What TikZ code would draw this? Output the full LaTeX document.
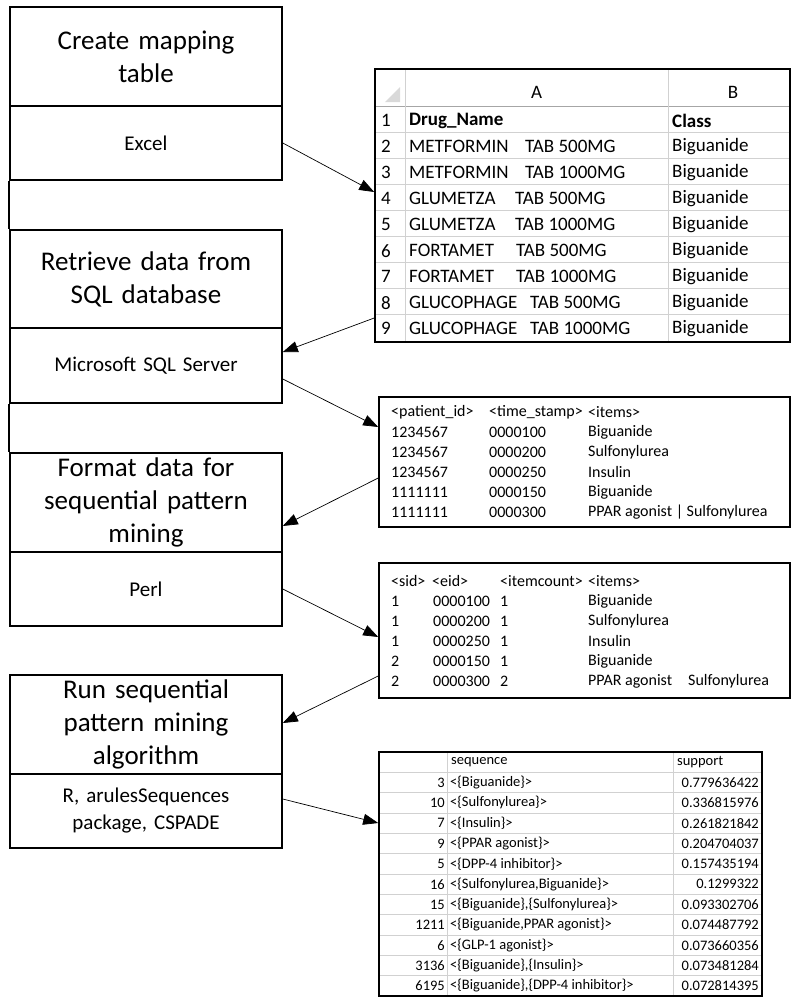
\documentclass[tikz,border=0pt]{standalone}
\usepackage{fontspec}
\setmainfont{Carlito}
\usetikzlibrary{arrows.meta}

\begin{document}
\begin{tikzpicture}[x=1pt,y=-1pt]
\tikzset{stage/.style = {draw, line width=1.6pt, minimum width=272pt, text width=262pt, align=center, inner sep=0pt, font=\fontsize{27}{33}\selectfont}}
\tikzset{tool/.style = {stage, font=\fontsize{21}{27}\selectfont}}
\tikzset{tablebox/.style = {draw, line width=1.6pt, inner sep=0pt}}
\tikzset{gridline/.style = {draw=black!18, line width=0.8pt}}
\tikzset{cell/.style = {anchor=west, inner sep=0pt}}
\tikzset{flow/.style = {-{Triangle[length=15pt,width=11pt]}, line width=0.7pt}}
\useasboundingbox (0,0) rectangle (791,997);

% steps on the left
\node[stage, minimum height=99pt](create) at (146,56.5) {Create mapping\\table};
\node[tool, minimum height=74pt](excel) at (146,143) {Excel};
\node[stage, minimum height=98pt](retrieve) at (146,279) {Retrieve data from\\SQL database};
\node[tool, minimum height=75pt](sqlserver) at (146,365.5) {Microsoft SQL Server};
\node[stage, minimum height=99pt](format) at (146,502.5) {Format data for\\sequential pattern\\mining};
\node[tool, minimum height=74pt](perl) at (146,589) {Perl};
\node[stage, minimum height=99pt](mining) at (146,724.5) {Run sequential\\pattern mining\\algorithm};
\node[tool, minimum height=74pt](cspade) at (146,811) {R, arulesSequences\\package, CSPADE};
\draw[line width=1.6pt] (excel.south west) -- (retrieve.north west);
\draw[line width=1.6pt] (sqlserver.south west) -- (format.north west);

% mapping table
\begin{scope}[font=\fontsize{19}{22}\selectfont]
\foreach \k in {1,...,8} \draw[gridline] (375,106.7+26*\k) -- (790,106.7+26*\k);
\draw[draw=black!35, line width=0.8pt] (375,106.7) -- (790,106.7);
\draw[gridline] (405,69) -- (405,342);
\draw[gridline] (668,69) -- (668,342);
\fill[black!15] (385,102) -- (400,87) -- (400,102) -- cycle;
\node[tablebox, minimum width=415pt, minimum height=273pt](mapping) at (582.5,205.5) {};
\node(colA) at (536.5,92) {A};
\node(colB) at (733,92) {B};
\foreach \r in {1,...,9} \node[cell](row\r) at (381,94.7+26*\r) {\r};
\node[cell, font=\fontsize{19}{22}\selectfont\bfseries](drug1) at (409,120.7) {Drug\_Name};
\node[cell, font=\fontsize{19}{22}\selectfont\bfseries](class1) at (672,120.7) {Class};
\foreach \r/\drug/\tabx/\dose in {2/METFORMIN/525/500MG, 3/METFORMIN/525/1000MG, 4/GLUMETZA/515/500MG, 5/GLUMETZA/515/1000MG, 6/FORTAMET/516/500MG, 7/FORTAMET/516/1000MG, 8/GLUCOPHAGE/530/500MG, 9/GLUCOPHAGE/530/1000MG}
{
\node[cell](drug\r) at (409,94.7+26*\r) {\drug};
\node[cell](dose\r) at (\tabx,94.7+26*\r) {TAB \dose};
\node[cell](class\r) at (672,94.7+26*\r) {Biguanide};
}
\end{scope}

% patient data
\begin{scope}[font=\fontsize{16}{19}\selectfont]
\node[tablebox, minimum width=411pt, minimum height=130pt](patients) at (584.5,462) {};
\node[cell](pidhead) at (391,412) {<patient\_id>};
\node[cell](tshead) at (489,412) {<time\_stamp>};
\node[cell](itemhead) at (588,412) {<items>};
\foreach \r/\pid/\ts/\item in {1/1234567/0000100/Biguanide, 2/1234567/0000200/Sulfonylurea, 3/1234567/0000250/Insulin, 4/1111111/0000150/Biguanide, 5/1111111/0000300/PPAR agonist | Sulfonylurea}
{
\node[cell](pid\r) at (391,412+20*\r) {\pid};
\node[cell](ts\r) at (489,412+20*\r) {\ts};
\node[cell](item\r) at (588,412+20*\r) {\item};
}
\end{scope}

% spade input
\begin{scope}[font=\fontsize{16}{19}\selectfont]
\node[tablebox, minimum width=411pt, minimum height=135pt](sequences) at (584.5,630.5) {};
\node[cell](sidhead) at (391,581) {<sid>};
\node[cell](eidhead) at (432,581) {<eid>};
\node[cell](counthead) at (500,581) {<itemcount>};
\node[cell](itemshead) at (588,581) {<items>};
\foreach \r/\sid/\eid/\cnt/\item in {1/1/0000100/1/Biguanide, 2/1/0000200/1/Sulfonylurea, 3/1/0000250/1/Insulin, 4/2/0000150/1/Biguanide, 5/2/0000300/2/PPAR agonist}
{
\node[cell](sid\r) at (391,581+20*\r) {\sid};
\node[cell](eid\r) at (433,581+20*\r) {\eid};
\node[cell](cnt\r) at (500,581+20*\r) {\cnt};
\node[cell](items\r) at (588,581+20*\r) {\item};
}
\node[cell](items5b) at (688,681) {Sulfonylurea};
\end{scope}

% mined patterns
\begin{scope}[font=\fontsize{14.5}{17}\selectfont]
\foreach \k in {1,...,11} \draw[gridline] (379,752+20.33*\k) -- (762,752+20.33*\k);
\draw[gridline] (447,752) -- (447,996);
\draw[gridline] (673,752) -- (673,996);
\node[tablebox, minimum width=383pt, minimum height=244pt](patterns) at (570.5,874) {};
\node[cell](seqhead) at (451,762.2) {sequence};
\node[cell](suphead) at (677,762.2) {support};
\foreach \r/\id/\seq/\val in {1/3/{<\{Biguanide\}>}/0.779636422, 2/10/{<\{Sulfonylurea\}>}/0.336815976, 3/7/{<\{Insulin\}>}/0.261821842, 4/9/{<\{PPAR agonist\}>}/0.204704037, 5/5/{<\{DPP-4 inhibitor\}>}/0.157435194, 6/16/{<\{Sulfonylurea,Biguanide\}>}/0.1299322, 7/15/{<\{Biguanide\},\{Sulfonylurea\}>}/0.093302706, 8/1211/{<\{Biguanide,PPAR agonist\}>}/0.074487792, 9/6/{<\{GLP-1 agonist\}>}/0.073660356, 10/3136/{<\{Biguanide\},\{Insulin\}>}/0.073481284, 11/6195/{<\{Biguanide\},\{DPP-4 inhibitor\}>}/0.072814395}
{
\node[anchor=east, inner sep=0pt](id\r) at (445,762.2+20.33*\r) {\id};
\node[cell](seq\r) at (450,762.2+20.33*\r) {\seq};
\node[anchor=east, inner sep=0pt](val\r) at (759,762.2+20.33*\r) {\val};
}
\end{scope}

% connectors
\draw[flow] (excel.east) -- ([yshift=13.5pt]mapping.west);
\draw[flow] ([yshift=-112.5pt]mapping.west) -- ([yshift=13.5pt]sqlserver.east);
\draw[flow] ([yshift=-13.5pt]sqlserver.east) -- ([yshift=35pt]patients.west);
\draw[flow] ([yshift=-16pt]patients.west) -- ([yshift=-23.5pt]format.east);
\draw[flow] (perl.east) -- ([yshift=-6.5pt]sequences.west);
\draw[flow] ([yshift=-45.5pt]sequences.west) -- ([yshift=1.5pt]mining.east);
\draw[flow] ([yshift=12pt]cspade.east) -- ([yshift=51pt]patterns.west);
\end{tikzpicture}
\end{document}
